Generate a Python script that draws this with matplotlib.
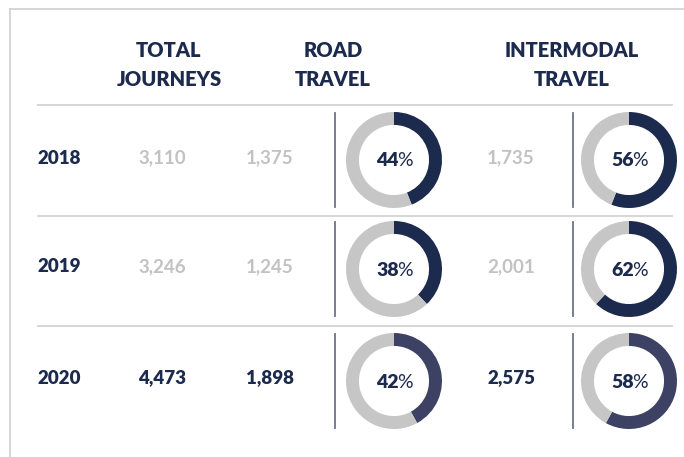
import matplotlib.pyplot as plt

W, H = 684, 457

headers = ["TOTAL\nJOURNEYS", "ROAD\nTRAVEL", "INTERMODAL\nTRAVEL"]
years = ["2018", "2019", "2020"]
total = ["3,110", "3,246", "4,473"]
road = ["1,375", "1,245", "1,898"]
road_pct = [44, 38, 42]
inter = ["1,735", "2,001", "2,575"]
inter_pct = [56, 62, 58]

navy = "#1c2a4d"
slate = "#3d4264"
ring_grey = "#c6c6c6"
num_grey = "#c2c2c2"
line_grey = "#d6d6d6"
vline = "#6e7389"

plt.rcParams['font.family'] = ['Lato', 'DejaVu Sans']

fig = plt.figure(figsize=(W / 100, H / 100), dpi=100)
ax = fig.add_axes([0, 0, 1, 1])
ax.set_xlim(0, W)
ax.set_ylim(H, 0)
ax.axis('off')

# outer frame (top and left)
ax.plot([10, W], [9, 9], color="#d0d0d0", lw=1.2)
ax.plot([10, 10], [9, H], color="#d0d0d0", lw=1.2)

# headers
for x, h in zip([169, 333, 572], headers):
    ax.text(x, 65, h, ha='center', va='center', fontsize=14.5, fontweight='heavy',
            color=navy, linespacing=1.6)

# separators
for y in [105, 216, 326]:
    ax.plot([38, 672], [y, y], color=line_grey, lw=1.4)

row_y = [158, 267, 378]
donut_y = [160, 269, 381]
R = 48


def donut(cx, cy, pct, col):
    a = fig.add_axes([(cx - R) / W, 1 - (cy + R) / H, 2 * R / W, 2 * R / H])
    a.pie([pct, 100 - pct], colors=[col, ring_grey], startangle=90, counterclock=False,
          wedgeprops=dict(width=0.27, linewidth=0))
    a.set_xlim(-1, 1)
    a.set_ylim(-1, 1)
    a.set_aspect('equal')
    ax.text(cx + 5, cy + 1, str(pct), ha='right', va='center', fontsize=14,
            fontweight='heavy', color=navy)
    ax.text(cx + 3.5, cy + 1, "%", ha='left', va='center', fontsize=14,
            fontweight='normal', color=navy)


for i in range(3):
    y = row_y[i]
    last = i == 2
    ncol = navy if last else num_grey
    ax.text(38, y, years[i], ha='left', va='center', fontsize=13.5, fontweight='heavy', color=navy)
    ax.text(162, y, total[i], ha='center', va='center', fontsize=13.5,
            fontweight='heavy' if last else 'bold', color=ncol)
    ax.text(270, y, road[i], ha='center', va='center', fontsize=13.5,
            fontweight='heavy' if last else 'bold', color=ncol)
    ax.text(511, y, inter[i], ha='center', va='center', fontsize=13.5,
            fontweight='heavy' if last else 'bold', color=ncol)
    dy = donut_y[i]
    ax.plot([335, 335], [dy - 47, dy + 47], color=vline, lw=1.3)
    ax.plot([573, 573], [dy - 47, dy + 47], color=vline, lw=1.3)
    dcol = slate if last else navy
    donut(394, dy, road_pct[i], dcol)
    donut(629, dy, inter_pct[i], dcol)

fig.savefig("out.png", dpi=100)
